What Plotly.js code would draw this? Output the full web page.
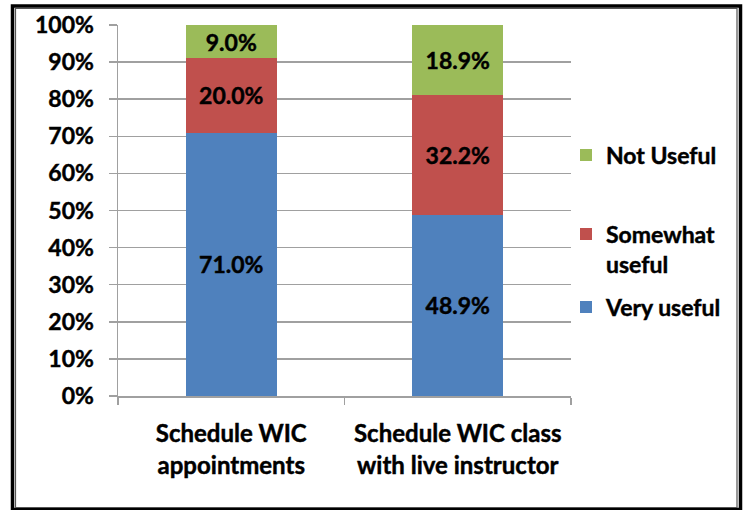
<!DOCTYPE html>
<html>
<head>
<meta charset="utf-8">
<script src="https://cdn.plot.ly/plotly-3.0.1.min.js"></script>
<style>
html,body{margin:0;padding:0;background:#fff;}
#chart{width:746px;height:510px;}
#chart text{stroke:#000;stroke-width:0.45px;}
</style>
</head>
<body>
<div id="chart"></div>
<script>
const categories = ['Schedule WIC<br>appointments', 'Schedule WIC class<br>with live instructor'];
const veryUseful = [71.0, 48.9];
const somewhatUseful = [20.0, 32.2];
const notUseful = [9.0, 18.9];
const seriesNames = ['Very useful', 'Somewhat<br>useful', 'Not Useful'];
const yTicks = [0, 10, 20, 30, 40, 50, 60, 70, 80, 90, 100];

const FONT = 'Lato, "Open Sans", sans-serif';
const colors = ['#4F81BD', '#C0504D', '#9BBB59'];
const series = [veryUseful, somewhatUseful, notUseful];
const legendIds = ['legend3', 'legend2', 'legend'];

const traces = series.map((vals, i) => ({
  type: 'bar',
  x: categories,
  y: vals,
  name: seriesNames[i],
  legend: legendIds[i],
  marker: {color: colors[i]},
  texttemplate: '%{y:.1f}%',
  textposition: 'inside',
  insidetextanchor: 'middle',
  constraintext: 'none',
  textfont: {family: FONT, size: 23, color: '#000', weight: 700},
  hoverinfo: 'skip'
}));

// paper coordinate helpers (plot area: x 118..571, y 25..396)
const px = v => (v - 118) / 453;
const py = v => (396 - v) / 371;

const legendFont = {family: FONT, size: 23, color: '#000', weight: 700};
function mkLegend(yc) {
  return {
    x: px(566), y: py(yc), xanchor: 'left', yanchor: 'middle',
    font: legendFont, itemwidth: 30, valign: 'top',
    bgcolor: 'rgba(0,0,0,0)'
  };
}

const layout = {
  width: 746, height: 510,
  margin: {l: 118, r: 175, t: 25, b: 114},
  paper_bgcolor: '#fff', plot_bgcolor: '#fff',
  barmode: 'stack',
  bargap: 0.6,
  font: {family: FONT, size: 23, color: '#000', weight: 700},
  showlegend: true,
  legend: mkLegend(155),
  legend2: mkLegend(249),
  legend3: mkLegend(307),
  xaxis: {
    type: 'category',
    showline: true, linecolor: '#A0A0A0', linewidth: 1.5,
    ticks: 'outside', tickson: 'boundaries', ticklen: 7, tickcolor: '#A0A0A0', tickwidth: 1.5,
    ticklabelstandoff: 16,
    tickfont: {family: FONT, size: 24, color: '#000', weight: 700},
    showgrid: false, zeroline: false
  },
  yaxis: {
    range: [0, 100],
    tickvals: yTicks,
    ticktext: yTicks.map(v => v + '%'),
    showline: true, linecolor: '#A0A0A0', linewidth: 1.5,
    ticks: 'outside', ticklen: 8, tickcolor: '#A0A0A0', tickwidth: 1.5,
    ticklabelstandoff: 10,
    showgrid: true, gridcolor: '#A0A0A0', gridwidth: 1.5,
    zeroline: false,
    tickfont: {family: FONT, size: 23, color: '#000', weight: 700}
  },
  shapes: [
    {type: 'rect', xref: 'paper', yref: 'paper', x0: px(12.5), x1: px(740.5), y0: py(6), y1: py(509.5),
     line: {color: '#000', width: 3.5}, fillcolor: 'rgba(0,0,0,0)'},
    {type: 'rect', xref: 'paper', yref: 'paper', x0: px(15.5), x1: px(737), y0: py(8.5), y1: py(507.5),
     line: {color: '#555', width: 1.2}, fillcolor: 'rgba(0,0,0,0)'}
  ]
};

Plotly.newPlot('chart', traces, layout, {displayModeBar: false, staticPlot: true});
</script>
</body>
</html>
